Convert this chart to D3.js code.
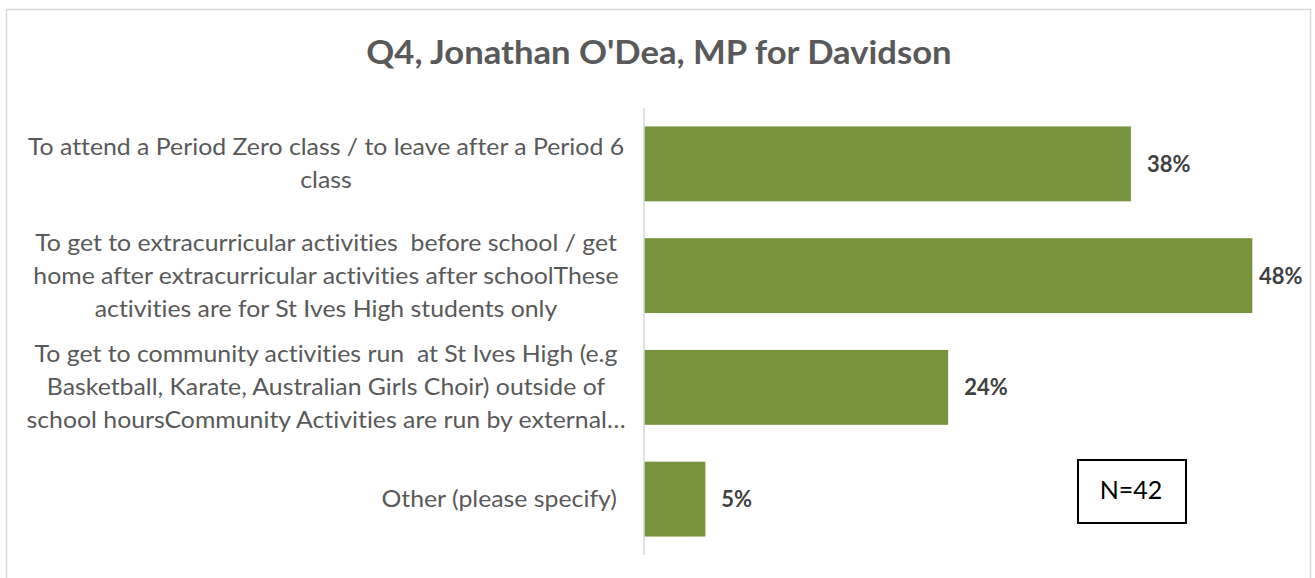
<!DOCTYPE html>
<html><head><meta charset="utf-8">
<script src="https://cdn.jsdelivr.net/npm/d3@7"></script>
<style>
html,body{margin:0;padding:0;background:#fff;}
svg{display:block;}
text{font-family:Lato,"Open Sans",sans-serif;font-variant-ligatures:none;font-feature-settings:"liga" 0;white-space:pre;}
</style></head>
<body>
<svg id="chart" width="1315" height="578"></svg>
<script>
const title = "Q4, Jonathan O'Dea, MP for Davidson";
const categories = [
  "To attend a Period Zero class / to leave after a Period 6\nclass",
  "To get to extracurricular activities  before school / get\nhome after extracurricular activities after schoolThese\nactivities are for St Ives High students only",
  "To get to community activities run  at St Ives High (e.g\nBasketball, Karate, Australian Girls Choir) outside of\nschool hoursCommunity Activities are run by external\u2026",
  "Other (please specify)"
];
const values = [0.381, 0.476, 0.238, 0.048];
const valueLabels = ["38%", "48%", "24%", "5%"];
const xDomain = [0, 0.5];
const noteText = "N=42";

const svg = d3.select("#chart");

// outer border
svg.append("rect").attr("x", 6.5).attr("y", 9.5).attr("width", 1304).attr("height", 580)
  .attr("fill", "#fff").attr("stroke", "#d9d9d9").attr("stroke-width", 1.5);

svg.append("text").attr("transform", "translate(659,64) scale(1.05,1)").attr("text-anchor", "middle")
  .attr("font-size", 33).attr("font-weight", "bold").attr("fill", "#595959").text(title);

const x = d3.scaleLinear().domain(xDomain).range([644, 1283]);
const y = d3.scaleBand().domain(d3.range(categories.length)).range([108, 555])
  .paddingInner(0.33).paddingOuter(0.165);

// bars
svg.append("g").selectAll("rect").data(values).join("rect")
  .attr("x", x(0)).attr("y", (d, i) => y(i))
  .attr("width", d => x(d) - x(0)).attr("height", y.bandwidth())
  .attr("fill", "#77933c");

// axis line
const yAxis = d3.axisLeft(y).tickSize(0).tickFormat("");
const ag = svg.append("g").attr("transform", `translate(${x(0)},0)`).call(yAxis);
ag.select(".domain").attr("stroke", "#d9d9d9").attr("stroke-width", 1.5)
  .attr("d", `M0,108V555`);

// category labels
const lh = 33;
const sx = 1.08;
const lab = svg.append("g");
categories.forEach((c, i) => {
  const lines = c.split("\n");
  const cy = y(i) + y.bandwidth() / 2;
  const multi = lines.length > 1;
  const t = lab.append("text")
    .attr("transform", `translate(${multi ? 326 : 617},0) scale(${sx},1)`)
    .attr("font-size", 23).attr("fill", "#595959")
    .attr("text-anchor", multi ? "middle" : "end");
  lines.forEach((ln, k) => {
    t.append("tspan").attr("x", 0)
      .attr("y", cy + (k - (lines.length - 1) / 2) * lh + 8).text(ln);
  });
});

// value labels
svg.append("g").selectAll("text").data(values).join("text")
  .attr("font-size", 22).attr("font-weight", "bold").attr("fill", "#404040")
  .attr("y", (d, i) => y(i) + y.bandwidth() / 2 + 8)
  .attr("x", d => Math.min(x(d) + 16, 1259))
  .text((d, i) => valueLabels[i]);

// N box
svg.append("rect").attr("x", 1078).attr("y", 460).attr("width", 108).attr("height", 63)
  .attr("fill", "#fff").attr("stroke", "#000").attr("stroke-width", 2);
svg.append("text").attr("x", 1131).attr("y", 499).attr("text-anchor", "middle")
  .attr("font-size", 25).attr("fill", "#000").text(noteText);
</script>
</body></html>
